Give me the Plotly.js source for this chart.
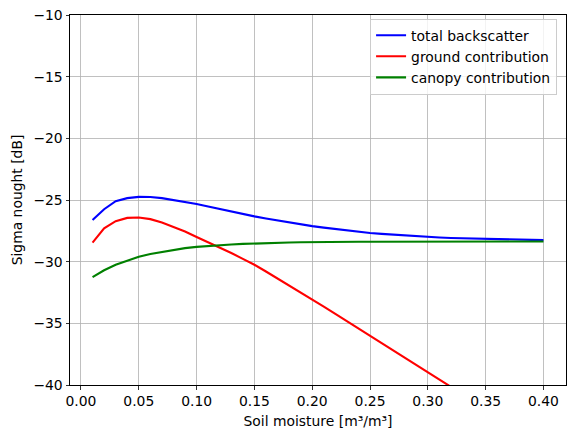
<!DOCTYPE html>
<html>
<head>
<meta charset="utf-8">
<script src="https://cdn.plot.ly/plotly-3.0.1.min.js"></script>
<style>html,body{margin:0;padding:0;background:#fff;}#chart{width:574px;height:438px;}</style>
</head>
<body>
<div id="chart"></div>
<script>
const soilMoisture = [0.01,0.02,0.03,0.04,0.05,0.06,0.07,0.08,0.09,0.10,
  0.11,0.12,0.13,0.14,0.15,0.16,0.17,0.18,0.19,0.20,
  0.21,0.22,0.23,0.24,0.25,0.26,0.27,0.28,0.29,0.30,
  0.31,0.32,0.33,0.34,0.35,0.36,0.37,0.38,0.39,0.40];
const totalBackscatter = [-26.63,-25.75,-25.1,-24.85,-24.75,-24.76,-24.85,-25.0,-25.15,-25.33,
  -25.53,-25.74,-25.94,-26.14,-26.33,-26.5,-26.67,-26.83,-26.97,-27.12,
  -27.24,-27.36,-27.48,-27.58,-27.68,-27.75,-27.82,-27.89,-27.95,-28.0,
  -28.04,-28.08,-28.11,-28.13,-28.15,-28.17,-28.19,-28.21,-28.23,-28.25];
const groundContribution = [-28.45,-27.3,-26.72,-26.45,-26.42,-26.55,-26.83,-27.17,-27.55,-28.0,
  -28.42,-28.85,-29.3,-29.77,-30.25,-30.8,-31.36,-31.93,-32.5,-33.08,
  -33.65,-34.24,-34.83,-35.42,-36.01,-36.6,-37.2,-37.8,-38.39,-38.98,
  -39.57,-40.16,-40.75,-41.34,-41.93,-42.52,-43.11,-43.7,-44.29,-44.88];
const canopyContribution = [-31.25,-30.7,-30.25,-29.9,-29.6,-29.38,-29.2,-29.04,-28.9,-28.8,
  -28.72,-28.66,-28.61,-28.56,-28.52,-28.49,-28.47,-28.45,-28.43,-28.41,
  -28.4,-28.4,-28.39,-28.39,-28.38,-28.38,-28.38,-28.37,-28.37,-28.37,
  -28.37,-28.37,-28.36,-28.36,-28.36,-28.36,-28.36,-28.36,-28.36,-28.36];
const seriesNames = ["total backscatter","ground contribution","canopy contribution"];
const seriesColors = ["#0000ff","#ff0000","#008000"];
const xTitle = "Soil moisture [m³/m³]";
const yTitle = "Sigma nought [dB]";

const ys = [totalBackscatter, groundContribution, canopyContribution];
const traces = ys.map((y,i)=>({
  x: soilMoisture, y: y, type: "scatter", mode: "lines", name: seriesNames[i],
  line: {color: seriesColors[i], width: 2.1}
}));

const font = {family: "DejaVu Sans, sans-serif", size: 13.9, color: "#000"};
const layout = {
  width: 574, height: 438,
  margin: {l: 70, r: 8, t: 15, b: 53, pad: 0},
  paper_bgcolor: "#fff", plot_bgcolor: "#fff",
  font: font,
  showlegend: true,
  legend: {x: 0.982, xanchor: "right", y: 0.99, yanchor: "top",
    bgcolor: "rgba(255,255,255,0.8)", bordercolor: "#cccccc", borderwidth: 1,
    font: {family: "DejaVu Sans, sans-serif", size: 13.9, color: "#000"},
    tracegroupgap: 0, itemwidth: 30},
  xaxis: {
    range: [-0.0095, 0.4195], dtick: 0.05, tick0: 0, tickformat: ".2f",
    showgrid: true, gridcolor: "#b0b0b0", gridwidth: 0.8,
    zeroline: false, showline: true, linecolor: "#000", linewidth: 1, mirror: true,
    ticks: "outside", ticklen: 3.5, tickwidth: 0.8, tickcolor: "#000",
    automargin: false,
    title: {text: xTitle, font: font, standoff: 8}
  },
  yaxis: {
    range: [-40, -10], dtick: 5, tick0: 0, tickformat: "d",
    showgrid: true, gridcolor: "#b0b0b0", gridwidth: 0.8,
    zeroline: false, showline: true, linecolor: "#000", linewidth: 1, mirror: true,
    ticks: "outside", ticklen: 3.5, tickwidth: 0.8, tickcolor: "#000",
    automargin: false,
    title: {text: yTitle, font: font, standoff: 7}
  }
};
Plotly.newPlot("chart", traces, layout, {displayModeBar: false, staticPlot: true});
</script>
</body>
</html>
